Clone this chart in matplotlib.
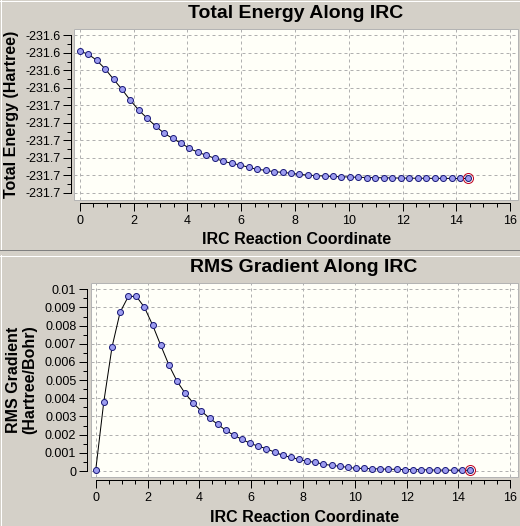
import matplotlib
matplotlib.use("Agg")
import matplotlib.pyplot as plt
from matplotlib.lines import Line2D
from matplotlib.patches import Rectangle

# ---------------- data ----------------
irc_coord = [0.00, 0.31, 0.63, 0.94, 1.26, 1.57, 1.88, 2.20, 2.51, 2.83,
             3.14, 3.45, 3.77, 4.08, 4.40, 4.71, 5.02, 5.34, 5.65, 5.97,
             6.28, 6.59, 6.91, 7.22, 7.54, 7.85, 8.16, 8.48, 8.79, 9.11,
             9.42, 9.73, 10.05, 10.36, 10.68, 10.99, 11.30, 11.62, 11.93, 12.25,
             12.56, 12.87, 13.19, 13.50, 13.82, 14.13, 14.45]

total_energy = [-231.63957, -231.64034, -231.64213, -231.64453, -231.64756,
                -231.65041, -231.65355, -231.65640, -231.65869, -231.66097,
                -231.66297, -231.66440, -231.66582, -231.66725, -231.66839,
                -231.66925, -231.67010, -231.67096, -231.67153, -231.67202,
                -231.67267, -231.67324, -231.67353, -231.67393, -231.67410,
                -231.67438, -231.67467, -231.67490, -231.67505, -231.67518,
                -231.67528, -231.67537, -231.67545, -231.67552, -231.67558,
                -231.67563, -231.67567, -231.67571, -231.67574, -231.67577,
                -231.67579, -231.67581, -231.67582, -231.67583, -231.67584,
                -231.67585, -231.67586]

rms_gradient = [0.00004, 0.00378, 0.00682, 0.00873, 0.00961, 0.00961, 0.00901, 0.00802, 0.00692, 0.00582,
                0.00494, 0.00428, 0.00373, 0.00329, 0.00290, 0.00257, 0.00224, 0.00196, 0.00174, 0.00152,
                0.00136, 0.00123, 0.00103, 0.00086, 0.00075, 0.00064, 0.00053, 0.00048, 0.00037, 0.00031,
                0.00026, 0.00020, 0.00015, 0.00014, 0.00013, 0.00011, 0.00010, 0.00009, 0.00008, 0.00008,
                0.00007, 0.00006, 0.00005, 0.00005, 0.00004, 0.00004, 0.00004]

x_ticks = [0, 2, 4, 6, 8, 10, 12, 14, 16]
x_tick_labels = ["0", "2", "4", "6", "8", "10", "12", "14", "16"]

energy_ticks = [-231.635, -231.640, -231.645, -231.650, -231.655,
                -231.660, -231.665, -231.670, -231.675, -231.680]
energy_tick_labels = ["-231.6", "-231.6", "-231.6", "-231.6", "-231.7",
                      "-231.7", "-231.7", "-231.7", "-231.7", "-231.7"]

grad_ticks = [0, 0.001, 0.002, 0.003, 0.004, 0.005, 0.006, 0.007, 0.008, 0.009, 0.01]
grad_tick_labels = ["0", "0.001", "0.002", "0.003", "0.004", "0.005",
                    "0.006", "0.007", "0.008", "0.009", "0.01"]

titles = ["Total Energy Along IRC", "RMS Gradient Along IRC"]
x_label = "IRC Reaction Coordinate"
y_labels = ["Total Energy (Hartree)", "RMS Gradient\n(Hartree/Bohr)"]

# ---------------- style ----------------
W, H = 520, 526
plt.rcParams['font.family'] = ['Liberation Sans', 'DejaVu Sans']
BG = '#d4d0c8'
PLOT_BG = '#fffff8'
GRID = '#b0b0b0'
MFACE = '#9c9cf0'
MEDGE = '#1c1c7a'
PX = 72.0 / 100.0  # one pixel in points

fig = plt.figure(figsize=(W / 100, H / 100), dpi=100, facecolor=BG)

# background panels
bg = fig.add_axes([0, 0, 1, 1])
bg.set_xlim(0, W)
bg.set_ylim(H, 0)
bg.axis('off')
for (x0, x1, y0, y1, c) in [
        (0, 519, 0.5, 0.5, 'white'), (0.5, 0.5, 0, 249, 'white'),
        (0, 520, 249.5, 249.5, '#808080'), (519.5, 519.5, 0, 250, '#808080'),
        (0, 519, 255.5, 255.5, 'white'), (0.5, 0.5, 255, 526, 'white'),
        (519.5, 519.5, 255, 526, '#808080')]:
    bg.add_line(Line2D([x0, x1], [y0, y1], color=c, lw=PX))


def px_axes(left, top, right, bottom):
    return fig.add_axes([left / W, 1 - bottom / H, (right - left) / W, (bottom - top) / H])


def style_axes(ax, xlim, ylim, yticks, ylabels, ybounds, left_out, bottom_out):
    ax.set_facecolor(PLOT_BG)
    ax.set_xlim(*xlim)
    ax.set_ylim(*ylim)
    ax.set_xticks(x_ticks)
    ax.set_xticklabels(x_tick_labels)
    ax.set_xticks([v + 0.5 * k for v in x_ticks[:-1] for k in (1, 2, 3)], minor=True)
    ax.set_yticks(yticks)
    ax.set_yticklabels(ylabels)
    mids = [(a + b) / 2 for a, b in zip(yticks[:-1], yticks[1:])]
    ax.set_yticks(mids, minor=True)
    for s in ('top', 'right'):
        ax.spines[s].set_visible(False)
    ax.spines['left'].set_position(('outward', left_out * PX))
    ax.spines['bottom'].set_position(('outward', bottom_out * PX))
    ax.spines['left'].set_bounds(*ybounds)
    ax.spines['bottom'].set_bounds(0, 16)
    for s in ('left', 'bottom'):
        ax.spines[s].set_linewidth(PX)
        ax.spines[s].set_color('black')
    ax.tick_params(which='major', direction='out', length=8 * PX, width=PX,
                   color='black', labelsize=9, pad=3 * PX)
    ax.tick_params(which='minor', direction='out', length=4 * PX, width=PX, color='black')
    ax.tick_params(axis='x', which='major', pad=4 * PX)
    ax.grid(True, which='major', color=GRID, lw=PX, linestyle=(0, (3, 3)))
    ax.set_axisbelow(True)
    ax.add_patch(Rectangle((0, 0), 1, 1, transform=ax.transAxes, fill=False,
                           ec='#b4b4b4', lw=PX, clip_on=False, zorder=1))


def plot_series(ax, xs, ys):
    ax.plot(xs, ys, color='black', lw=PX, zorder=3)
    ax.plot(xs, ys, ls='none', marker='o', ms=6 * PX, mfc=MFACE, mec=MEDGE,
            mew=PX, zorder=4)
    ax.plot(xs[-1:], ys[-1:], ls='none', marker='o', ms=10 * PX, mfc='none',
            mec='#c00020', mew=PX, zorder=5)


# ---------------- top panel ----------------
ax1 = px_axes(74, 29, 518, 200)
style_axes(ax1, (-0.212, 16.29), (-231.682, -231.6332), energy_ticks,
           energy_tick_labels, (energy_ticks[-1], energy_ticks[0]), 2.7, 3)
plot_series(ax1, irc_coord, total_energy)

fig.text(296 / W, 1 - 14 / H, titles[0], ha='center', va='center',
         fontsize=14, fontweight='bold')
fig.text(297 / W, 1 - 239 / H, x_label, ha='center', va='center',
         fontsize=11.5, fontweight='bold')
fig.text(12 / W, 1 - 114.5 / H, y_labels[0], ha='center', va='center',
         rotation=90, fontsize=11.5, fontweight='bold')

# ---------------- bottom panel ----------------
ax2 = px_axes(90.7, 283, 518, 477)
style_axes(ax2, (-0.193, 16.3), (-0.00033, 0.010347), grad_ticks,
           grad_tick_labels, (0, 0.01), 3.4, 3)
plot_series(ax2, irc_coord, rms_gradient)

fig.text(304 / W, 1 - 268 / H, titles[1], ha='center', va='center',
         fontsize=14, fontweight='bold')
fig.text(305 / W, 1 - 517 / H, x_label, ha='center', va='center',
         fontsize=11.5, fontweight='bold')
fig.text(22 / W, 1 - 380 / H, y_labels[1], ha='center', va='center',
         rotation=90, fontsize=11.5, fontweight='bold', linespacing=1.1)

fig.savefig('out.png', dpi=100, facecolor=BG)
